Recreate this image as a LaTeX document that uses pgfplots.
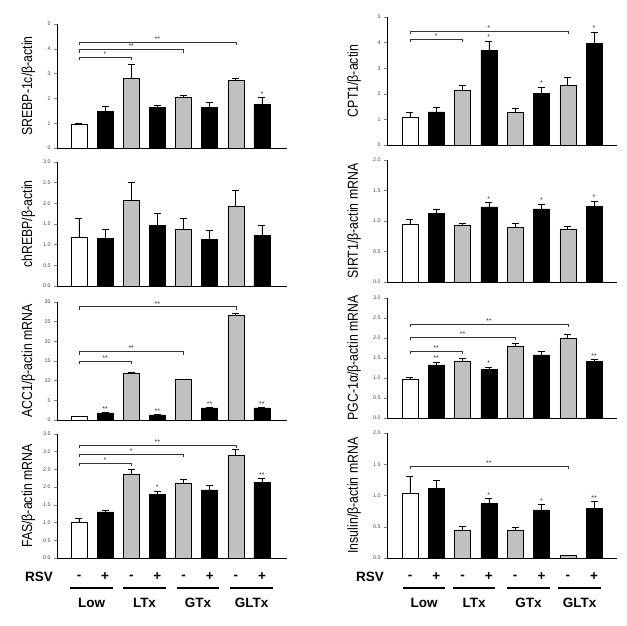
\documentclass[border=0pt]{standalone}
\usepackage{pgfplots}
\pgfplotsset{compat=1.18}
\usepackage{fontspec}
\setmainfont{Liberation Sans}
\newfontfamily\labfont[FakeStretch=0.85]{Liberation Sans}
\definecolor{bargray}{RGB}{192,192,192}
\pgfplotsset{
  panel/.style={scale only axis, width=230pt, axis lines=left,
    axis line style={-, line width=0.6pt}, xtick=\empty, ymin=0,
    tick align=outside, major tick length=3pt, ytick style={line width=0.5pt},
    yticklabel style={font=\fontsize{5.3}{6}\selectfont, text=black!75},
    /pgf/number format/assume math mode=true,
    ylabel style={font=\labfont\fontsize{14.5}{15}\selectfont, anchor=center},
    clip=false},
  leftcol/.style={panel, xmin=-0.84, xmax=7.96,
    ylabel style={at={(axis description cs:-0.125,0.5)}}},
  rightcol/.style={panel, xmin=-0.87, xmax=7.87,
    ylabel style={at={(axis description cs:-0.143,0.5)}}},
  dec/.style={yticklabel style={/pgf/number format/.cd, fixed, fixed zerofill, precision=1}},
  bars/.style={ybar, bar width=16pt, draw=black, line width=0.5pt,
    error bars/y dir=plus, error bars/y explicit,
    error bars/error bar style={line width=0.6pt, black},
    error bars/error mark options={rotate=90, mark size=3.5pt, line width=0.6pt, black}},
}
\newcommand{\brk}[4]{\draw[line width=0.5pt, black!80] ([yshift=-3pt]axis cs:0,#2) -- (axis cs:0,#2) -- (axis cs:#1,#2) -- ([yshift=-3pt]axis cs:#1,#2);
  \node[font=\fontsize{7}{7}\selectfont, anchor=south, inner sep=0.5pt, black!80] at (axis cs:#3,#2) {#4};}
\newcommand{\st}[3]{\node[font=\fontsize{7}{7}\selectfont, anchor=south, inner sep=1pt, black!80] at (axis cs:#1,#2) {#3};}
\begin{document}
\begin{tikzpicture}
\path[use as bounding box] (0,0) rectangle (627pt,-626pt);
% ---------------- SREBP-1c
\begin{axis}[leftcol, at={(57pt,-148pt)}, anchor=south west, height=124pt, ymax=5, ytick={0,1,2,3,4,5},
  ylabel={SREBP-1c/β-actin}]
\addplot[bars, fill=white] coordinates {(0,0.96) +- (0,0.02)};
\addplot[bars, fill=black] coordinates {(1,1.47) +- (0,0.21) (3,1.65) +- (0,0.06) (5,1.65) +- (0,0.19) (7,1.76) +- (0,0.28)};
\addplot[bars, fill=bargray] coordinates {(2,2.80) +- (0,0.56) (4,2.03) +- (0,0.08) (6,2.72) +- (0,0.08)};
\brk{2}{3.67}{1}{*}
\brk{4}{3.97}{2}{**}
\brk{6}{4.28}{3}{**}
\st{7}{2.04}{*}
\end{axis}
% ---------------- chREBP
\begin{axis}[leftcol, dec, at={(57pt,-286pt)}, anchor=south west, height=124pt, ymax=3, ytick={0,0.5,...,3},
  ylabel={chREBP/β-actin}]
\addplot[bars, fill=white] coordinates {(0,1.17) +- (0,0.46)};
\addplot[bars, fill=black] coordinates {(1,1.16) +- (0,0.22) (3,1.46) +- (0,0.30) (5,1.13) +- (0,0.22) (7,1.22) +- (0,0.25)};
\addplot[bars, fill=bargray] coordinates {(2,2.07) +- (0,0.44) (4,1.37) +- (0,0.28) (6,1.93) +- (0,0.39)};
\end{axis}
% ---------------- ACC1
\begin{axis}[leftcol, at={(57pt,-420pt)}, anchor=south west, height=118pt, ymax=30, ytick={0,5,...,30},
  ylabel={ACC1/β-actin mRNA}]
\addplot[bars, fill=white] coordinates {(0,0.9) +- (0,0.05)};
\addplot[bars, fill=black] coordinates {(1,1.8) +- (0,0.1) (3,1.3) +- (0,0.1) (5,3.1) +- (0,0.1) (7,3.1) +- (0,0.1)};
\addplot[bars, fill=bargray] coordinates {(2,11.9) +- (0,0.15) (4,10.25) +- (0,0.1) (6,26.7) +- (0,0.35)};
\brk{2}{15.0}{1}{**}
\brk{4}{17.4}{2}{**}
\brk{6}{28.8}{3}{**}
\st{1}{1.9}{**}
\st{3}{1.4}{**}
\st{5}{3.2}{**}
\st{7}{3.2}{**}
\end{axis}
% ---------------- FAS
\begin{axis}[leftcol, dec, at={(57pt,-558pt)}, anchor=south west, height=124pt, ymax=3.5, ytick={0,0.5,...,3.5},
  ylabel={FAS/β-actin mRNA}]
\addplot[bars, fill=white] coordinates {(0,1.02) +- (0,0.11)};
\addplot[bars, fill=black] coordinates {(1,1.30) +- (0,0.05) (3,1.80) +- (0,0.09) (5,1.92) +- (0,0.12) (7,2.14) +- (0,0.11)};
\addplot[bars, fill=bargray] coordinates {(2,2.37) +- (0,0.13) (4,2.11) +- (0,0.12) (6,2.90) +- (0,0.17)};
\brk{2}{2.67}{1}{*}
\brk{4}{2.94}{2}{*}
\brk{6}{3.19}{3}{**}
\st{3}{1.89}{*}
\st{7}{2.25}{**}
\end{axis}
% ---------------- CPT1
\begin{axis}[rightcol, at={(387pt,-145pt)}, anchor=south west, height=128pt, ymax=5, ytick={0,1,2,3,4,5},
  ylabel={CPT1/β-actin}]
\addplot[bars, fill=white] coordinates {(0,1.07) +- (0,0.22)};
\addplot[bars, fill=black] coordinates {(1,1.29) +- (0,0.17) (3,3.69) +- (0,0.37) (5,2.03) +- (0,0.23) (7,3.98) +- (0,0.44)};
\addplot[bars, fill=bargray] coordinates {(2,2.13) +- (0,0.22) (4,1.27) +- (0,0.15) (6,2.33) +- (0,0.30)};
\brk{2}{4.14}{1}{*}
\brk{6}{4.44}{3}{*}
\st{3}{4.06}{*}
\st{5}{2.26}{*}
\st{7}{4.42}{*}
\end{axis}
% ---------------- SIRT1
\begin{axis}[rightcol, dec, at={(387pt,-282pt)}, anchor=south west, height=122pt, ymax=2, ytick={0,0.5,...,2},
  ylabel={SIRT1/β-actin mRNA}]
\addplot[bars, fill=white] coordinates {(0,0.95) +- (0,0.08)};
\addplot[bars, fill=black] coordinates {(1,1.13) +- (0,0.06) (3,1.23) +- (0,0.07) (5,1.20) +- (0,0.08) (7,1.24) +- (0,0.09)};
\addplot[bars, fill=bargray] coordinates {(2,0.93) +- (0,0.03) (4,0.90) +- (0,0.06) (6,0.86) +- (0,0.06)};
\st{3}{1.30}{*}
\st{5}{1.28}{*}
\st{7}{1.33}{*}
\end{axis}
% ---------------- PGC-1a
\begin{axis}[rightcol, dec, at={(387pt,-418pt)}, anchor=south west, height=120pt, ymax=3, ytick={0,0.5,...,3},
  ylabel={PGC-1α/β-actin mRNA}]
\addplot[bars, fill=white] coordinates {(0,0.97) +- (0,0.05)};
\addplot[bars, fill=black] coordinates {(1,1.33) +- (0,0.07) (3,1.21) +- (0,0.07) (5,1.58) +- (0,0.09) (7,1.42) +- (0,0.05)};
\addplot[bars, fill=bargray] coordinates {(2,1.43) +- (0,0.07) (4,1.80) +- (0,0.08) (6,1.99) +- (0,0.11)};
\brk{2}{1.68}{1}{**}
\brk{4}{2.02}{2}{**}
\brk{6}{2.35}{3}{**}
\st{1}{1.40}{**}
\st{3}{1.28}{*}
\st{7}{1.47}{**}
\end{axis}
% ---------------- Insulin
\begin{axis}[rightcol, dec, at={(387pt,-558pt)}, anchor=south west, height=125pt, ymax=2, ytick={0,0.5,...,2},
  ylabel={Insulin/β-actin mRNA}]
\addplot[bars, fill=white] coordinates {(0,1.04) +- (0,0.26)};
\addplot[bars, fill=black] coordinates {(1,1.12) +- (0,0.13) (3,0.87) +- (0,0.08) (5,0.77) +- (0,0.09) (7,0.80) +- (0,0.10)};
\addplot[bars, fill=bargray] coordinates {(2,0.45) +- (0,0.06) (4,0.44) +- (0,0.05) (6,0.04) +- (0,0.0)};
\brk{6}{1.47}{3}{**}
\st{3}{0.95}{*}
\st{5}{0.86}{*}
\st{7}{0.90}{**}
\end{axis}
% ---------------- RSV rows
\begin{scope}[every node/.style={font=\fontsize{13.5}{14}\selectfont\bfseries, inner sep=0pt}]
\node[anchor=west] at (25pt,-577pt) {RSV};
\foreach \i/\s in {0/-,1/+,2/-,3/+,4/-,5/+,6/-,7/+} {
  \node at ({(79+26.14*\i)*1pt},-577pt) {\s};
  \node at ({(410+26.3*\i)*1pt},-577pt) {\s};
}
\node[anchor=west] at (356pt,-577pt) {RSV};
\foreach \a/\b/\t in {70/113/Low,123/166/LTx,177/219/GTx,230/273/GLTx} {
  \draw[line width=1.6pt] (\a pt,-588pt) -- (\b pt,-588pt);
  \node at ({(\a+\b)/2*1pt},-603pt) {\t};
}
\foreach \a/\b/\t in {403/445/Low,453/495/LTx,507/550/GTx,558/601/GLTx} {
  \draw[line width=1.6pt] (\a pt,-588pt) -- (\b pt,-588pt);
  \node at ({(\a+\b)/2*1pt},-603pt) {\t};
}
\end{scope}
\end{tikzpicture}
\end{document}
